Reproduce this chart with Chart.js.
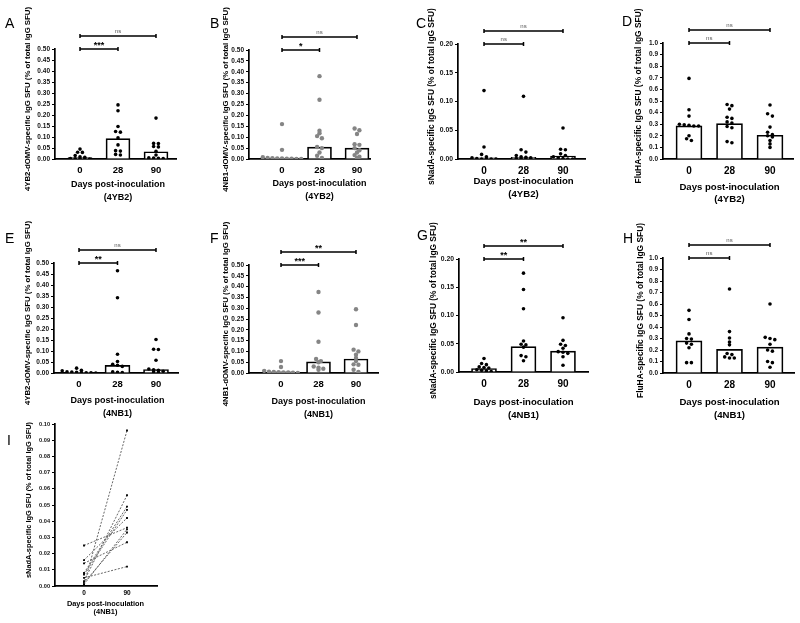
<!DOCTYPE html>
<html>
<head>
<meta charset="utf-8">
<script src="https://cdn.jsdelivr.net/npm/chart.js@4/dist/chart.umd.min.js"></script>
<style>
  html, body { margin: 0; padding: 0; background: #fff; }
  #fig { position: relative; width: 800px; height: 623px; overflow: hidden; }
  #fig canvas { position: absolute; }
</style>
</head>
<body>
<div id="fig"></div>
<script>
// eixos e rótulos
const days = ['0', '28', '90'];
const daysI = ['0', '90'];
const ticksHalf = [0, 0.05, 0.10, 0.15, 0.20, 0.25, 0.30, 0.35, 0.40, 0.45, 0.50];
const ticksFifth = [0, 0.05, 0.10, 0.15, 0.20];
const ticksOne = [0, 0.1, 0.2, 0.3, 0.4, 0.5, 0.6, 0.7, 0.8, 0.9, 1.0];
const ticksTenth = [0, 0.01, 0.02, 0.03, 0.04, 0.05, 0.06, 0.07, 0.08, 0.09, 0.10];

// A - 4YB2-dOMV (4YB2)
const a0 = [0.045, 0.031, 0.030, 0.016, 0.010, 0.008, 0.002, 0.001, 0.001, 0, 0];
const a28 = [0.246, 0.219, 0.148, 0.125, 0.122, 0.096, 0.064, 0.038, 0.036, 0.021, 0.018];
const a90 = [0.186, 0.071, 0.070, 0.057, 0.055, 0.035, 0.018, 0.005, 0.004, 0.003, 0.002];
const aBar = [0.006, 0.093, 0.033];
const sigA = ['***', 'ns'];

// B - 4NB1-dOMV (4YB2)
const b0 = [0.160, 0.042, 0.008, 0.005, 0.004, 0.003, 0.002, 0.001, 0.001, 0, 0];
const b28 = [0.380, 0.272, 0.130, 0.118, 0.105, 0.095, 0.055, 0.050, 0.030, 0.015, 0.005];
const b90 = [0.140, 0.132, 0.115, 0.068, 0.065, 0.050, 0.040, 0.030, 0.018, 0.010, 0.005];
const bBar = [0.004, 0.055, 0.050];
const sigB = ['*', 'ns'];

// C - sNadA (4YB2)
const c0 = [0.119, 0.021, 0.008, 0.004, 0.002, 0.001, 0, 0, 0, 0];
const c28 = [0.109, 0.016, 0.012, 0.006, 0.004, 0.003, 0.002, 0.001, 0.001, 0, 0];
const c90 = [0.054, 0.017, 0.016, 0.009, 0.006, 0.004, 0.002, 0.001, 0, 0];
const cBar = [0.002, 0.003, 0.005];
const sigC = ['ns', 'ns'];

// D - FluHA (4YB2)
const d0 = [0.695, 0.425, 0.370, 0.300, 0.295, 0.290, 0.285, 0.285, 0.200, 0.175, 0.160];
const d28 = [0.470, 0.460, 0.430, 0.360, 0.350, 0.320, 0.310, 0.280, 0.270, 0.150, 0.140];
const d90 = [0.465, 0.390, 0.370, 0.275, 0.230, 0.210, 0.200, 0.190, 0.160, 0.130, 0.100];
const dBar = [0.285, 0.305, 0.205];
const sigD = ['ns', 'ns'];

// E - 4YB2-dOMV (4NB1)
const e0 = [0.022, 0.012, 0.010, 0.005, 0.004, 0.003, 0.002, 0.001, 0.001, 0];
const e28 = [0.465, 0.342, 0.085, 0.052, 0.040, 0.035, 0.030, 0.005, 0.003, 0.002];
const e90 = [0.152, 0.108, 0.107, 0.058, 0.018, 0.015, 0.012, 0.008, 0.005, 0.003];
const eBar = [0.003, 0.035, 0.015];
const sigE = ['**', 'ns'];

// F - 4NB1-dOMV (4NB1)
const f0 = [0.055, 0.028, 0.010, 0.006, 0.005, 0.004, 0.003, 0.002, 0.001, 0];
const f28 = [0.375, 0.280, 0.145, 0.065, 0.055, 0.050, 0.030, 0.025, 0.020, 0.015];
const f90 = [0.295, 0.222, 0.108, 0.100, 0.085, 0.070, 0.055, 0.040, 0.038, 0.015, 0.005];
const fBar = [0.005, 0.052, 0.065];
const sigF = ['***', '**'];

// G - sNadA (4NB1)
const g0 = [0.024, 0.015, 0.013, 0.009, 0.008, 0.007, 0.004, 0.003, 0.002, 0.001];
const g28 = [0.175, 0.146, 0.112, 0.055, 0.049, 0.048, 0.044, 0.029, 0.027, 0.020];
const g90 = [0.096, 0.056, 0.049, 0.047, 0.042, 0.036, 0.035, 0.033, 0.027, 0.012];
const gBar = [0.006, 0.045, 0.037];
const sigG = ['**', '**'];

// H - FluHA (4NB1)
const h0 = [0.545, 0.465, 0.340, 0.300, 0.295, 0.260, 0.250, 0.220, 0.090, 0.090];
const h28 = [0.730, 0.360, 0.305, 0.270, 0.245, 0.170, 0.160, 0.140, 0.130, 0.130];
const h90 = [0.600, 0.310, 0.300, 0.290, 0.250, 0.200, 0.190, 0.100, 0.090, 0.050];
const hBar = [0.280, 0.205, 0.225];
const sigH = ['ns', 'ns'];

// I - pares sNadA dia 0 -> dia 90 (4NB1)
const i0 = [0.001, 0.003, 0.008, 0.007, 0.016, 0.001, 0.025, 0.002, 0.014, 0.005];
const i90 = [0.096, 0.056, 0.049, 0.047, 0.042, 0.035, 0.036, 0.033, 0.027, 0.012];

const FONT = '"Liberation Sans", Arial, sans-serif';
const YW = 28, XH = 20;

const panels = [
  { id: 'A', cell: [0, 0, 198, 205], area: [55, 49, 176, 159], cat: [80, 156], groups: [a0, a28, a90], bars: aBar, sig: sigA,
    yTicks: ticksHalf, dec: 2, yTitle: '4YB2-dOMV-specific IgG SFU (% of total IgG SFU)', sub: '(4YB2)',
    letter: [5, 28], ytx: 27.5, xty: [185, 198], fs: { yt: 7.8, xt: 9, tk: 6.5, cat: 9.5 } },
  { id: 'B', cell: [198, 0, 200, 205], area: [249, 50, 370, 159], cat: [282, 357], groups: [b0, b28, b90], bars: bBar, sig: sigB,
    yTicks: ticksHalf, dec: 2, yTitle: '4NB1-dOMV-specific IgG SFU (% of total IgG SFU)', sub: '(4YB2)', grey: true,
    letter: [210, 28], ytx: 226, xty: [184, 197], fs: { yt: 7.8, xt: 9, tk: 6.5, cat: 9.5 } },
  { id: 'C', cell: [398, 0, 200, 205], area: [458, 44, 585, 159], cat: [484, 563], groups: [c0, c28, c90], bars: cBar, sig: sigC,
    yTicks: ticksFifth, dec: 2, yTitle: 'sNadA-specific IgG SFU (% of total IgG SFU)', sub: '(4YB2)',
    letter: [416, 28], ytx: 432, xty: [181, 194], fs: { yt: 8.4, xt: 9.6, tk: 6.8, cat: 10 } },
  { id: 'D', cell: [598, 0, 202, 205], area: [663, 43, 793, 159], cat: [689, 770], groups: [d0, d28, d90], bars: dBar, sig: sigD,
    yTicks: ticksOne, dec: 1, yTitle: 'FluHA-specific IgG SFU (% of total IgG SFU)', sub: '(4YB2)',
    letter: [622, 26], ytx: 639, xty: [187, 199], fs: { yt: 8.4, xt: 9.6, tk: 6.5, cat: 10 } },
  { id: 'E', cell: [0, 205, 198, 215], area: [54, 263, 178, 373], cat: [79, 156], groups: [e0, e28, e90], bars: eBar, sig: sigE,
    yTicks: ticksHalf, dec: 2, yTitle: '4YB2-dOMV-specific IgG SFU (% of total IgG SFU)', sub: '(4NB1)',
    letter: [5, 243], ytx: 27.5, xty: [401, 414], fs: { yt: 7.8, xt: 9, tk: 6.5, cat: 9.5 } },
  { id: 'F', cell: [198, 205, 200, 215], area: [249, 265, 378, 373], cat: [281, 356], groups: [f0, f28, f90], bars: fBar, sig: sigF,
    yTicks: ticksHalf, dec: 2, yTitle: '4NB1-dOMV-specific IgG SFU (% of total IgG SFU)', sub: '(4NB1)', grey: true,
    letter: [210, 243], ytx: 226, xty: [402, 415], fs: { yt: 7.8, xt: 9, tk: 6.5, cat: 9.5 } },
  { id: 'G', cell: [398, 205, 200, 215], area: [459, 259, 588, 372], cat: [484, 563], groups: [g0, g28, g90], bars: gBar, sig: sigG,
    yTicks: ticksFifth, dec: 2, yTitle: 'sNadA-specific IgG SFU (% of total IgG SFU)', sub: '(4NB1)',
    letter: [417, 240], ytx: 434, xty: [402, 415], fs: { yt: 8.4, xt: 9.6, tk: 6.8, cat: 10 } },
  { id: 'H', cell: [598, 205, 202, 215], area: [663, 258, 794, 373], cat: [689, 770], groups: [h0, h28, h90], bars: hBar, sig: sigH,
    yTicks: ticksOne, dec: 1, yTitle: 'FluHA-specific IgG SFU (% of total IgG SFU)', sub: '(4NB1)',
    letter: [623, 243], ytx: 641, xty: [402, 415], fs: { yt: 8.4, xt: 9.6, tk: 6.5, cat: 10 } }
];

const panelI = { id: 'I', cell: [0, 418, 200, 205], area: [55, 424, 157, 586], cat: [84, 127],
  yTicks: ticksTenth, dec: 2, yTitle: 'sNadA-specific IgG SFU (% of total IgG SFU)', sub: '(4NB1)',
  letter: [7, 445], ytx: 28.5, xty: [604, 612], fs: { yt: 7.4, xt: 7.4, tk: 5.6, cat: 6.5 }, catPad: -5 };

// espalha pontos com valores próximos lado a lado (estilo Prism)
function swarm(vals, ci, ymax, dx) {
  const sorted = vals.slice().sort((a, b) => b - a);
  const out = [];
  let cl = [];
  const tol = ymax * 0.022;
  const flush = () => {
    cl.forEach((v, k) => out.push({ x: ci + (k - (cl.length - 1) / 2) * dx, y: v }));
    cl = [];
  };
  for (const v of sorted) {
    if (cl.length && cl[0] - v > tol) flush();
    cl.push(v);
  }
  flush();
  return out;
}

function annot(p, nCat) {
  return {
    id: 'annot' + p.id,
    afterDraw(chart) {
      const { ctx, chartArea: ca, scales: { x } } = chart;
      const ox = p.cell[0], oy = p.cell[1];
      ctx.save();
      ctx.fillStyle = '#000';
      ctx.font = '14px ' + FONT;
      ctx.textAlign = 'left';
      ctx.textBaseline = 'alphabetic';
      ctx.fillText(p.id, p.letter[0] - ox, p.letter[1] - oy);

      ctx.save();
      ctx.translate(p.ytx - ox, (ca.top + ca.bottom) / 2 - 5);
      ctx.rotate(-Math.PI / 2);
      ctx.font = 'bold ' + p.fs.yt + 'px ' + FONT;
      ctx.textAlign = 'center';
      ctx.textBaseline = 'middle';
      ctx.fillText(p.yTitle, 0, 0);
      ctx.restore();

      const xc = x.getPixelForValue((nCat - 1) / 2);
      ctx.font = 'bold ' + p.fs.xt + 'px ' + FONT;
      ctx.textAlign = 'center';
      ctx.textBaseline = 'middle';
      ctx.fillText('Days post-inoculation', xc, p.xty[0] - oy);
      ctx.fillText(p.sub, xc, p.xty[1] - oy);

      (p.sig || []).forEach((s, k) => {
        const yy = ca.top - k * 13;
        const x1 = x.getPixelForValue(0), x2 = x.getPixelForValue(k + 1);
        ctx.strokeStyle = '#000';
        ctx.lineWidth = 1.5;
        ctx.beginPath();
        ctx.moveTo(x1, yy); ctx.lineTo(x2, yy);
        ctx.moveTo(x1, yy - 2); ctx.lineTo(x1, yy + 2);
        ctx.moveTo(x2, yy - 2); ctx.lineTo(x2, yy + 2);
        ctx.stroke();
        if (s === 'ns') {
          ctx.fillStyle = '#555';
          ctx.font = '6px ' + FONT;
          ctx.fillText(s, (x1 + x2) / 2, yy - 5);
        } else {
          ctx.fillStyle = '#000';
          ctx.font = 'bold 9px ' + FONT;
          ctx.fillText(s, (x1 + x2) / 2, yy - 3);
        }
      });
      ctx.restore();
    }
  };
}

function makeCanvas(p) {
  const cv = document.createElement('canvas');
  cv.width = p.cell[2];
  cv.height = p.cell[3];
  cv.style.left = p.cell[0] + 'px';
  cv.style.top = p.cell[1] + 'px';
  document.getElementById('fig').appendChild(cv);
  return cv;
}

function baseOptions(p, labels) {
  const [cx, cy, cw, ch] = p.cell;
  const [l, t, r, b] = p.area;
  const sp = (p.cat[1] - p.cat[0]) / (labels.length - 1);
  const ymax = p.yTicks[p.yTicks.length - 1];
  return {
    responsive: false,
    animation: false,
    events: [],
    layout: { padding: { left: l - cx - YW, top: t - cy, right: cx + cw - r, bottom: cy + ch - b - XH } },
    plugins: { legend: { display: false }, tooltip: { enabled: false } },
    scales: {
      x: {
        type: 'linear',
        min: -(p.cat[0] - l) / sp,
        max: (r - p.cat[0]) / sp,
        offset: false,
        grid: { display: false, offset: false },
        border: { display: true, color: '#000', width: 1.7 },
        afterBuildTicks: s => { s.ticks = labels.map((_, i) => ({ value: i })); },
        afterFit: s => { s.height = XH; },
        ticks: { callback: v => labels[v], color: '#000', padding: p.catPad ?? -2, autoSkip: false, maxRotation: 0,
                 font: { family: FONT, size: p.fs.cat, weight: 'bold' } }
      },
      y: {
        min: 0,
        max: ymax,
        grid: { display: true, drawOnChartArea: false, drawTicks: true, tickLength: 3, color: '#000', lineWidth: 1 },
        border: { display: true, color: '#000', width: 1.7 },
        afterBuildTicks: s => { s.ticks = p.yTicks.map(v => ({ value: v })); },
        afterFit: s => { s.width = YW; },
        ticks: { callback: v => v.toFixed(p.dec), color: '#111', padding: 2, autoSkip: false,
                 font: { family: FONT, size: p.fs.tk, weight: 'bold' } }
      }
    }
  };
}

panels.forEach(p => {
  const cv = makeCanvas(p);
  const sp = (p.cat[1] - p.cat[0]) / 2;
  const ymax = p.yTicks[p.yTicks.length - 1];
  const dx = 4.8 / sp;
  const pts = [];
  p.groups.forEach((g, i) => pts.push(...swarm(g, i, ymax, dx)));
  new Chart(cv, {
    type: 'bar',
    data: {
      datasets: [
        {
          type: 'scatter',
          data: pts,
          pointRadius: p.grey ? 2.2 : 1.8,
          pointBackgroundColor: p.grey ? '#858585' : '#000',
          pointBorderWidth: 0,
          order: 0
        },
        {
          type: 'bar',
          data: p.bars.map((v, i) => ({ x: i, y: v })),
          backgroundColor: '#fff',
          borderColor: '#000',
          borderWidth: 1.7,
          barThickness: Math.round(sp * 0.64),
          order: 1
        }
      ]
    },
    options: baseOptions(p, days),
    plugins: [annot(p, 3)]
  });
});

(() => {
  const p = panelI;
  const cv = makeCanvas(p);
  const datasets = i0.map((v, k) => ({
    type: 'line',
    data: [{ x: 0, y: v }, { x: 1, y: i90[k] }],
    borderColor: '#555',
    borderWidth: 0.9,
    borderDash: [2, 1.5],
    pointStyle: 'rect',
    pointRadius: 1.3,
    pointBackgroundColor: '#000',
    pointBorderWidth: 0,
    fill: false
  }));
  new Chart(cv, {
    type: 'line',
    data: { datasets },
    options: baseOptions(p, daysI),
    plugins: [annot(p, 2)]
  });
})();
</script>
</body>
</html>
